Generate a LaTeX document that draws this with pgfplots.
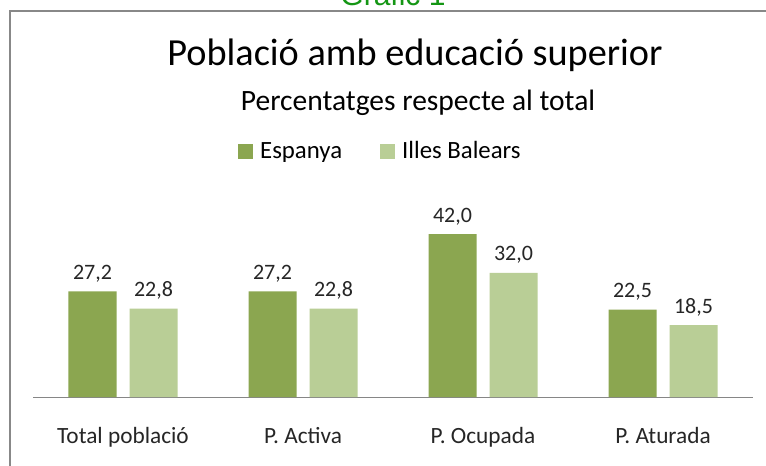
\documentclass[border=0pt]{standalone}
\usepackage{pgfplots}
\pgfplotsset{compat=1.18}
\usepackage{fontspec}
\setmainfont{Carlito}
\newfontfamily\arialfont{Liberation Sans}
\definecolor{darkg}{RGB}{139,166,80}
\definecolor{lightg}{RGB}{185,206,150}
\definecolor{framegray}{RGB}{136,136,136}
\definecolor{axisgray}{RGB}{134,134,134}
\definecolor{titlegreen}{RGB}{20,150,20}
\begin{document}
\begin{tikzpicture}
\useasboundingbox (0pt,0pt) rectangle (766pt,-466pt);
\fill[white] (0pt,0pt) rectangle (766pt,-466pt);
\node[anchor=base, text=titlegreen, font=\arialfont\fontsize{30}{32}\selectfont, inner sep=0pt] at (393pt,-5pt) {Gràfic 1};
\draw[framegray, line width=2pt] (9.5pt,-466pt) -- (9.5pt,-11pt) -- (770pt,-11pt);
\node[anchor=base, inner sep=0pt, font=\fontsize{38.3}{40}\selectfont] at (415pt,-65pt) {Població amb educació superior};
\node[anchor=base, inner sep=0pt, font=\fontsize{29.5}{31}\selectfont] at (418pt,-110pt) {Percentatges respecte al total};
\begin{axis}[
  at={(33pt,-397pt)}, anchor=south west,
  width=720pt, height=194pt, scale only axis,
  xmin=-0.5, xmax=3.5, ymin=0, ymax=50,
  axis x line*=bottom, axis y line=none,
  x axis line style={axisgray, line width=1pt, -},
  xtick={0,1,2,3},
  xticklabels={Total població, P. Activa, P. Ocupada, P. Aturada},
  major tick length=0pt,
  xticklabel style={anchor=base, yshift=-46pt, font=\fontsize{23.3}{25}\selectfont, text=black!85},
  ybar=13pt, bar width=48pt,
  nodes near coords={\pgfmathprintnumber[fixed,fixed zerofill,precision=1,use comma,assume math mode=true]{\pgfplotspointmeta}},
  every node near coord/.append style={font=\fontsize{22}{24}\selectfont, text=black!85, anchor=base, yshift=12pt},
  legend columns=2,
  legend style={at={(0.486,1.268)}, anchor=center, draw=none, fill=none, font=\fontsize{24.8}{26}\selectfont, nodes={inner xsep=7pt}, /tikz/every even column/.append style={column sep=31pt}},
  legend image code/.code={\fill[#1] (0pt,-7.5pt) rectangle (15pt,7.5pt);},
]
\addplot[fill=darkg, draw=none] coordinates {(0,27.2) (1,27.2) (2,42.0) (3,22.5)};
\addplot[fill=lightg, draw=none] coordinates {(0,22.8) (1,22.8) (2,32.0) (3,18.5)};
\legend{Espanya, Illes Balears}
\end{axis}
\end{tikzpicture}
\end{document}
